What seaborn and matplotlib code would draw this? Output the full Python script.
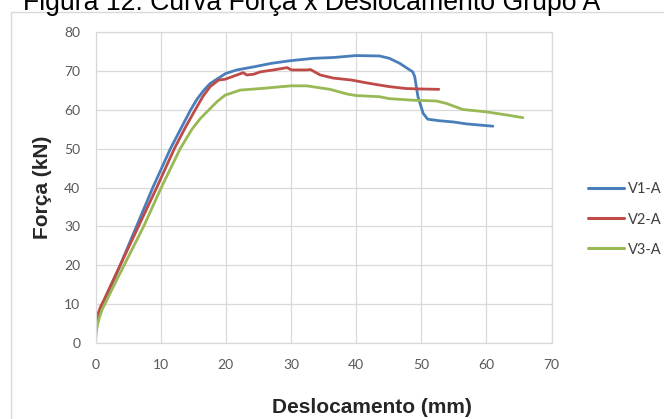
import matplotlib
matplotlib.use("Agg")
import matplotlib.pyplot as plt
from matplotlib.patches import Rectangle
from matplotlib.lines import Line2D
import seaborn as sns
import pandas as pd

# ---- data ----
series_names = ["V1-A", "V2-A", "V3-A"]

v1_x = [0, 0.1, 0.3, 0.6, 1.1, 2.5, 3.8, 6.3, 8.8, 11.5, 13.2, 14.6, 15.6, 16.6, 17.6, 18.7,
        20.0, 21.7, 24.3, 27.0, 30.0, 33.5, 36.5, 40.0, 43.6, 45.1, 46.7, 48.7, 49.0, 49.5,
        50.3, 51.0, 52.8, 54.9, 56.9, 61.0]
v1_y = [2, 4, 6, 8, 10, 15, 20, 30, 40, 50, 55.5, 60, 62.8, 65, 66.8, 68,
        69.4, 70.3, 71.1, 72.0, 72.7, 73.3, 73.5, 74.0, 73.9, 73.3, 72.0, 69.8, 68.6, 63.4,
        59.1, 57.6, 57.2, 56.9, 56.4, 55.8]

v2_x = [0, 0.1, 0.3, 0.7, 1.3, 2.4, 3.8, 6.6, 9.4, 12.1, 13.8, 15.3, 16.5, 17.6, 18.9, 19.9,
        21.7, 22.7, 23.2, 24.3, 25.3, 27.3, 29.4, 30.1, 32.4, 33.0, 34.5, 36.5, 39.3, 41.5,
        43.6, 45.1, 47.7, 49.7, 52.7]
v2_y = [3, 5, 7, 9, 11, 15, 20, 30, 40, 50, 55.5, 60, 63.5, 66, 67.7, 67.9,
        69.0, 69.6, 69.0, 69.2, 69.8, 70.3, 70.9, 70.3, 70.3, 70.4, 69.0, 68.2, 67.7, 67.0,
        66.4, 66.0, 65.5, 65.4, 65.3]

v3_x = [0, 0.1, 0.3, 0.6, 1.0, 1.6, 2.9, 4.4, 7.4, 10.1, 13.0, 14.8, 16.1, 17.4, 18.7, 19.9,
        22.2, 25.3, 30.0, 32.4, 36.0, 38.6, 40.0, 43.6, 45.1, 48.7, 52.3, 53.8, 56.4, 60.0,
        63.1, 65.6]
v3_y = [0, 2.5, 4.5, 6.5, 8.5, 10.5, 15, 20, 30, 40, 50, 55, 57.8, 60, 62.2, 63.8,
        65.1, 65.5, 66.2, 66.2, 65.3, 64.1, 63.7, 63.4, 62.9, 62.5, 62.3, 61.7, 60.1, 59.5,
        58.7, 58.0]

x_ticks = [0, 10, 20, 30, 40, 50, 60, 70]
y_ticks = [0, 10, 20, 30, 40, 50, 60, 70, 80]

title_text = "Figura 12: Curva Força x Deslocamento Grupo A"
x_label = "Deslocamento (mm)"
y_label = "Força (kN)"

colors = ["#4A7EBB", "#BE4B48", "#98B954"]

# ---- build long-form table ----
frames = []
for name, xs, ys in zip(series_names, [v1_x, v2_x, v3_x], [v1_y, v2_y, v3_y]):
    frames.append(pd.DataFrame({"x": xs, "y": ys, "serie": name}))
df = pd.concat(frames, ignore_index=True)

sns.set_theme(style="white")
plt.rcParams["font.family"] = ["Lato", "DejaVu Sans"]

W, H = 664, 419
fig = plt.figure(figsize=(W / 100, H / 100), dpi=100)
fig.patch.set_facecolor("white")

ax_left, ax_right = 95.5, 551.5
ax_top, ax_bottom = 32.3, 342.7
ax = fig.add_axes([ax_left / W, 1 - ax_bottom / H, (ax_right - ax_left) / W, (ax_bottom - ax_top) / H])

sns.lineplot(data=df, x="x", y="y", hue="serie", hue_order=series_names,
             palette=colors, sort=False, estimator=None, units="serie",
             linewidth=2.0, ax=ax, legend=False)

ax.set_xlim(0, 70)
ax.set_ylim(0, 80)
ax.set_xticks(x_ticks)
ax.set_yticks(y_ticks)
ax.grid(True, color="#D9D9D9", linewidth=0.9)
ax.set_axisbelow(True)
for sp in ax.spines.values():
    sp.set_color("#D9D9D9")
    sp.set_linewidth(0.9)

ax.tick_params(axis="both", length=0, labelsize=10, labelcolor="#595959")
ax.tick_params(axis="y", pad=11)
ax.tick_params(axis="x", pad=12)

ax.set_xlabel(x_label, fontsize=15, fontweight="bold", family=["Liberation Sans", "DejaVu Sans"])
ax.set_ylabel(y_label, fontsize=15, fontweight="bold", family=["Liberation Sans", "DejaVu Sans"])
ax.xaxis.set_label_coords((372 - ax_left) / (ax_right - ax_left), (ax_bottom - 407) / (ax_bottom - ax_top))
ax.yaxis.set_label_coords((42 - ax_left) / (ax_right - ax_left), 0.5)
ax.xaxis.label.set_va("center")
ax.yaxis.label.set_va("center")

# legend
handles = [Line2D([0], [0], color=c, linewidth=2.2) for c in colors]
fig.legend(handles, series_names, loc="center left",
           bbox_to_anchor=(588 / W, 1 - 219.5 / H), frameon=False,
           fontsize=10.5, handlelength=2.5, handletextpad=0.25,
           labelspacing=1.1, borderpad=0, borderaxespad=0,
           labelcolor="#404040")

# chart border and cropped caption
fig.patches.append(Rectangle((10.5 / W, -0.05), 1.1, 1 - 12 / H + 0.05,
                             transform=fig.transFigure, fill=False,
                             edgecolor="#D9D9D9", linewidth=1.0))
fig.text(23 / W, 1 - 10.5 / H, title_text, fontsize=19.2, va="baseline", ha="left",
         color="black", family=["Liberation Sans", "DejaVu Sans"])

fig.savefig("out.png", dpi=100)
